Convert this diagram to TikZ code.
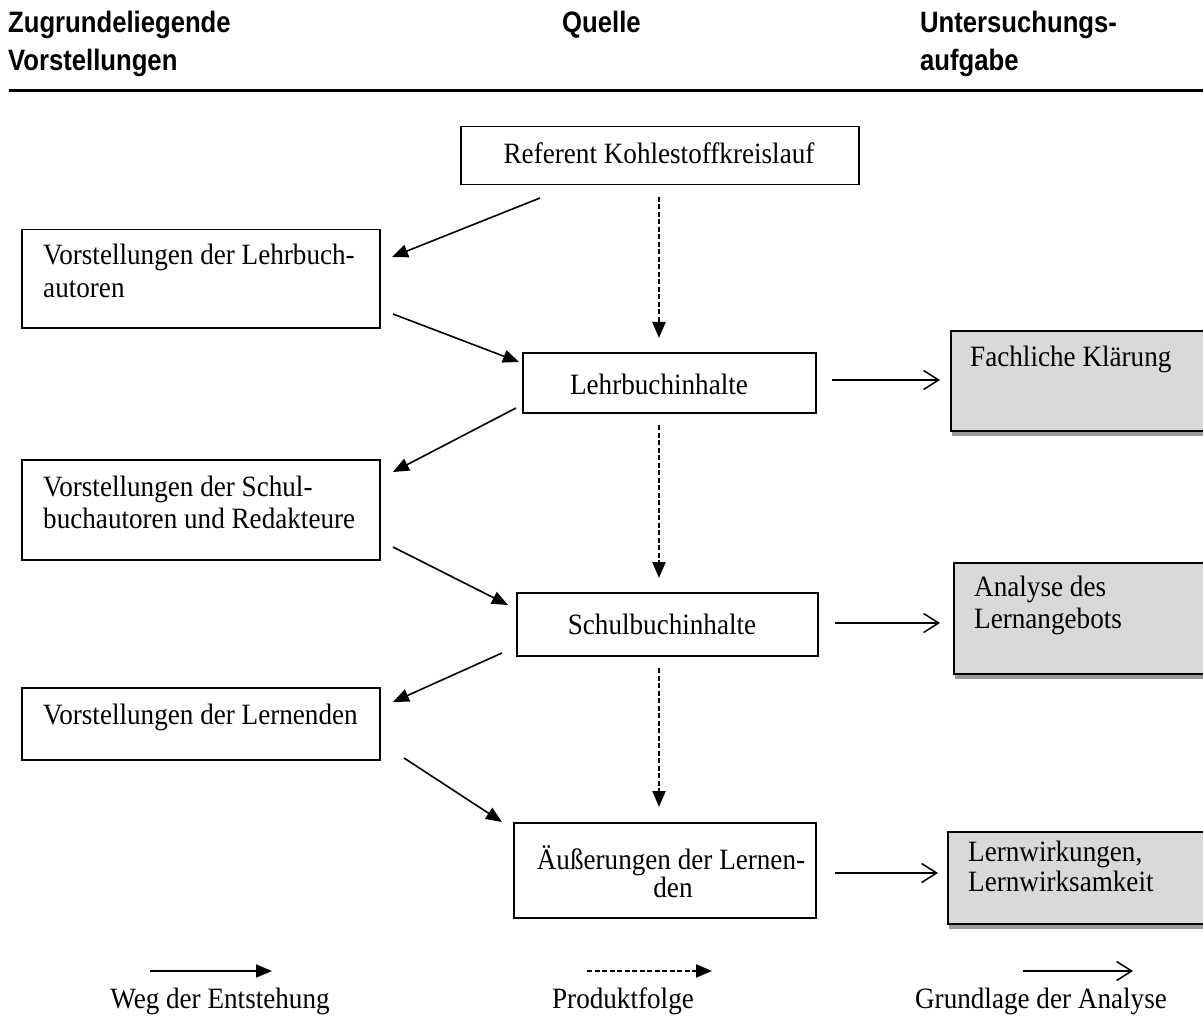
\documentclass[tikz,border=0pt]{standalone}
\usepackage{fontspec}
\setmainfont{Liberation Serif}[FakeStretch=0.92]
\newfontfamily\headfont{Liberation Sans}[FakeStretch=0.87]
\usetikzlibrary{arrows.meta,shadows}
\newcommand\bxfont{\fontsize{29.5pt}{32pt}\selectfont}
\newcommand\hdfont{\headfont\bfseries\fontsize{29.5pt}{32pt}\selectfont}
\definecolor{boxgray}{HTML}{D9D9D9}
\definecolor{shadegray}{HTML}{9A9A9A}
\begin{document}
\begin{tikzpicture}[x=1pt,y=-1pt,
  wbox/.style={draw=black, line width=1.5pt, fill=white, rectangle, inner sep=0pt, anchor=north west},
  gbox/.style={draw=black, line width=2.4pt, fill=boxgray, rectangle, inner sep=0pt, anchor=north west,
    drop shadow={shadow xshift=1pt, shadow yshift=-5pt, fill=shadegray, opacity=1}},
  txt/.style={inner sep=0pt, font=\bxfont},
  head/.style={inner sep=0pt, font=\hdfont, anchor=base west},
  weg/.style={line width=1.6pt, -{Triangle[length=16pt,width=13pt]}},
  folge/.style={line width=2.2pt, dash pattern=on 5pt off 2.5pt, -{Triangle[length=16pt,width=13pt]}},
  grund/.style={line width=1.5pt, -{Straight Barb[length=15pt,width=19pt,line width=1.5pt]}}
]
\useasboundingbox (0,0) rectangle (1203,1019);

% column headings and rule
\node[head] (h1) at (8,33) {Zugrundeliegende};
\node[head] (h2) at (8,71) {Vorstellungen};
\node[head] (h3) at (562,33) {Quelle};
\node[head] (h4) at (920,33) {Untersuchungs-};
\node[head] (h5) at (920,71) {aufgabe};
\coordinate (ruleL) at (9,91);
\coordinate (ruleR) at (1210,91);
\draw[line width=3pt] (ruleL) -- (ruleR);

% boxes
\node[wbox, minimum width=398pt, minimum height=58pt] (ref) at (460,126) {};
\node[wbox, minimum width=358pt, minimum height=98pt] (vla) at (21,229) {};
\node[wbox, minimum width=293pt, minimum height=60pt] (li) at (522,352) {};
\node[gbox, minimum width=265pt, minimum height=100pt] (fk) at (950,330) {};
\node[wbox, minimum width=358pt, minimum height=100pt] (vs) at (21,459) {};
\node[wbox, minimum width=301pt, minimum height=63pt] (si) at (516,592) {};
\node[gbox, minimum width=262pt, minimum height=111pt] (as) at (953,562) {};
\node[wbox, minimum width=358pt, minimum height=72pt] (vl) at (21,687) {};
\node[wbox, minimum width=302pt, minimum height=95pt] (ae) at (513,822) {};
\node[gbox, minimum width=268pt, minimum height=92pt] (lw) at (947,831) {};

% box texts
\node[txt, anchor=base] (refT) at (659,164) {Referent Kohlestoffkreislauf};
\node[txt, anchor=base west] (vlaT1) at (43,265) {Vorstellungen der Lehrbuch-};
\node[txt, anchor=base west] (vlaT2) at (43,298) {autoren};
\node[txt, anchor=base] (liT) at (659,394) {Lehrbuchinhalte};
\node[txt, anchor=base west] (fkT) at (970,366) {Fachliche Klärung};
\node[txt, anchor=base west] (vsT1) at (43,496) {Vorstellungen der Schul-};
\node[txt, anchor=base west] (vsT2) at (43,528) {buchautoren und Redakteure};
\node[txt, anchor=base] (siT) at (662,634) {Schulbuchinhalte};
\node[txt, anchor=base west] (asT1) at (974,596) {Analyse des};
\node[txt, anchor=base west] (asT2) at (974,628) {Lernangebots};
\node[txt, anchor=base west] (vlT) at (43,724) {Vorstellungen der Lernenden};
\node[txt, anchor=base] (aeT1) at (671,869) {Äußerungen der Lernen-};
\node[txt, anchor=base] (aeT2) at (673,897) {den};
\node[txt, anchor=base west] (lwT1) at (968,861) {Lernwirkungen,};
\node[txt, anchor=base west] (lwT2) at (968,891) {Lernwirksamkeit};

% connector end points
\coordinate (a1s) at (540,198);  \coordinate (a1e) at (392,257);
\coordinate (a2s) at (393,314);  \coordinate (a2e) at (519,362);
\coordinate (a3s) at (516,408);  \coordinate (a3e) at (393,472);
\coordinate (a4s) at (393,547);  \coordinate (a4e) at (508,605);
\coordinate (a5s) at (502,653);  \coordinate (a5e) at (393,702);
\coordinate (a6s) at (404,758);  \coordinate (a6e) at (502,822);
\coordinate (d1s) at (659,197);  \coordinate (d1e) at (659,338);
\coordinate (d2s) at (659,425);  \coordinate (d2e) at (659,578);
\coordinate (d3s) at (659,668);  \coordinate (d3e) at (659,807);
\coordinate (r1s) at (832,380);  \coordinate (r1e) at (940,380);
\coordinate (r2s) at (835,623);  \coordinate (r2e) at (940,623);
\coordinate (r3s) at (835,873);  \coordinate (r3e) at (938,873);

% paths of origin
\draw[weg] (a1s) -- (a1e);
\draw[weg] (a2s) -- (a2e);
\draw[weg] (a3s) -- (a3e);
\draw[weg] (a4s) -- (a4e);
\draw[weg] (a5s) -- (a5e);
\draw[weg] (a6s) -- (a6e);
% product sequence
\draw[folge] (d1s) -- (d1e);
\draw[folge] (d2s) -- (d2e);
\draw[folge] (d3s) -- (d3e);
% basis of analysis
\draw[grund] (r1s) -- (r1e);
\draw[grund] (r2s) -- (r2e);
\draw[grund] (r3s) -- (r3e);

% legend
\coordinate (l1s) at (150,971);  \coordinate (l1e) at (272,971);
\coordinate (l2s) at (587,971);  \coordinate (l2e) at (712,971);
\coordinate (l3s) at (1023,971); \coordinate (l3e) at (1133,971);
\draw[weg] (l1s) -- (l1e);
\draw[folge] (l2s) -- (l2e);
\draw[grund] (l3s) -- (l3e);
\node[txt, anchor=base] (leg1) at (220,1008) {Weg der Entstehung};
\node[txt, anchor=base] (leg2) at (623,1008) {Produktfolge};
\node[txt, anchor=base] (leg3) at (1041,1008) {Grundlage der Analyse};
\end{tikzpicture}
\end{document}
